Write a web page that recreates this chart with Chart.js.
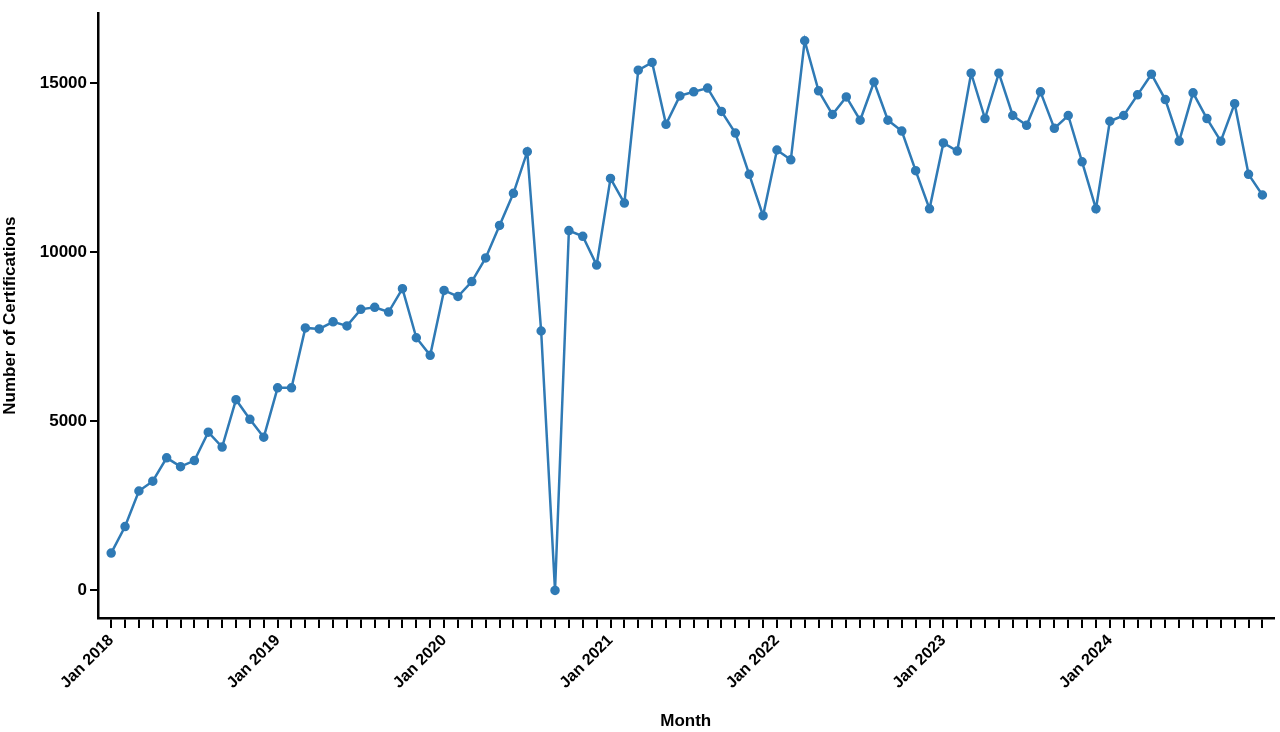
<!DOCTYPE html>
<html>
<head>
<meta charset="utf-8">
<script src="https://cdn.jsdelivr.net/npm/chart.js@4/dist/chart.umd.min.js"></script>
<style>
  html, body { margin: 0; padding: 0; background: #fff; }
  #wrap { width: 1280px; height: 732px; }
</style>
</head>
<body>
<div id="wrap"><canvas id="certChart"></canvas></div>
<script>
const years = [2018, 2019, 2020, 2021, 2022, 2023, 2024];
const monthNames = ['Jan','Feb','Mar','Apr','May','Jun','Jul','Aug','Sep','Oct','Nov','Dec'];
const certifications = [
  1105, 1890, 2940, 3230, 3920, 3660, 3840, 4680, 4240, 5640, 5060, 4530,
  5990, 5990, 7760, 7730, 7940, 7820, 8310, 8370, 8230, 8920, 7470, 6950,
  8870, 8690, 9130, 9830, 10790, 11740, 12970, 7670, 0, 10640, 10470, 9620,
  12180, 11450, 15380, 15610, 13780, 14620, 14740, 14850, 14160, 13520, 12300, 11080,
  13020, 12730, 16250, 14770, 14070, 14590, 13900, 15030, 13900, 13580, 12410, 11280,
  13230, 12990, 15290, 13950, 15290, 14040, 13750, 14740, 13660, 14040, 12670, 11280,
  13870, 14040, 14650, 15260, 14510, 13280, 14710, 13950, 13280, 14390, 12300, 11690
];
const yTicks = [0, 5000, 10000, 15000];

const monthLabels = [];
years.forEach(y => monthNames.forEach(m => monthLabels.push(m + ' ' + y)));
const points = certifications.map((v, i) => ({ x: i, y: v }));

const font = { family: 'Liberation Sans, Arial, sans-serif', size: 16, weight: 'bold' };

new Chart(document.getElementById('certChart'), {
  type: 'line',
  data: {
    datasets: [{
      data: points,
      borderColor: '#2f7ab5',
      backgroundColor: '#2f7ab5',
      borderWidth: 2.5,
      pointRadius: 3.5,
      pointHoverRadius: 4,
      tension: 0
    }]
  },
  options: {
    responsive: true,
    maintainAspectRatio: false,
    animation: false,
    layout: { padding: { top: -5, right: 5, left: 0, bottom: 0 } },
    plugins: { legend: { display: false }, tooltip: { enabled: false } },
    scales: {
      x: {
        type: 'linear',
        min: -0.95,
        max: 83.8,
        afterBuildTicks: axis => { axis.ticks = monthLabels.map((_, i) => ({ value: i })); },
        afterFit: axis => { axis.height = 114; },
        ticks: {
          autoSkip: false,
          maxRotation: 45,
          minRotation: 45,
          color: '#000',
          font: font,
          callback: v => (v % 12 === 0 ? monthLabels[v] : '')
        },
        grid: { drawOnChartArea: false, drawTicks: true, tickLength: 10, color: '#000', lineWidth: 2 },
        border: { color: '#000', width: 2.5 },
        title: { display: true, text: 'Month', color: '#000', font: { ...font, size: 17 }, padding: { top: -22, bottom: 0 } }
      },
      y: {
        min: -814,
        max: 17064,
        afterBuildTicks: axis => { axis.ticks = yTicks.map(v => ({ value: v })); },
        afterFit: axis => { axis.width = 98; },
        ticks: { color: '#000', font: { ...font, size: 17 }, callback: v => String(v) },
        grid: { drawOnChartArea: false, drawTicks: true, tickLength: 8, color: '#000', lineWidth: 2 },
        border: { color: '#000', width: 2.5 },
        title: { display: true, text: 'Number of Certifications', color: '#000', font: { ...font, size: 17 }, padding: { top: 0, bottom: 4 } }
      }
    }
  }
});
</script>
</body>
</html>
